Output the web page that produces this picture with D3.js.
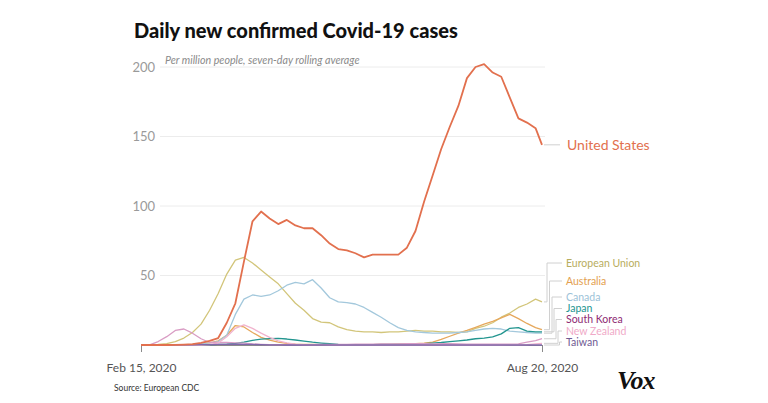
<!DOCTYPE html>
<html>
<head>
<meta charset="utf-8">
<script src="https://cdn.jsdelivr.net/npm/d3@7"></script>
<style>
  html, body { margin: 0; padding: 0; background: #fff; }
  svg { display: block; }
</style>
</head>
<body>
<svg id="chart" width="768" height="403"></svg>
<script>
// ---------- DATA ----------
const dates = ["2020-02-15","2020-02-19","2020-02-23","2020-02-27","2020-03-02","2020-03-06","2020-03-10","2020-03-14",
  "2020-03-18","2020-03-22","2020-03-26","2020-03-30","2020-04-03","2020-04-07","2020-04-11","2020-04-15",
  "2020-04-19","2020-04-23","2020-04-27","2020-05-01","2020-05-05","2020-05-09","2020-05-13","2020-05-17",
  "2020-05-21","2020-05-25","2020-05-29","2020-06-02","2020-06-06","2020-06-10","2020-06-14","2020-06-18",
  "2020-06-22","2020-06-26","2020-06-30","2020-07-04","2020-07-08","2020-07-12","2020-07-16","2020-07-20",
  "2020-07-24","2020-07-28","2020-08-01","2020-08-05","2020-08-09","2020-08-13","2020-08-17","2020-08-20"];

const unitedStates = [0,0,0,0,0.1,0.3,0.6,1.5, 3,5,16,30,60,89,96,91, 87,90,86,84,84,79,73,69,
  68,66,63,65,65,65,65,70, 82,103,122,141,157,172,192,200, 202,196,193,178,163,160,156,144];
const europeanUnion = [0.2,0.3,0.5,1,2.5,5,9,15, 25,37,51,61,63,59,54,49, 44,37,30,25,19,16.5,16,13,
  11,10,9.5,9.5,9,9.5,9.5,10, 10.5,10,10,9.5,9.5,9,9.5,12, 13.5,16,20,23,27,29.5,33,31];
const australia = [0,0,0,0,0,0.1,0.3,0.8, 1.5,3,7,14,13,9,5.5,3.5, 2,1.2,0.7,0.5,0.4,0.3,0.3,0.3,
  0.3,0.3,0.3,0.3,0.4,0.5,0.6,0.8, 1,1.3,2,4,6.3,8.5,10.5,12.7, 15,17,19.5,22,19,15.5,12.5,11];
const canada = [0,0,0,0,0.1,0.2,0.5,1, 1.5,2.5,7,22,33,36,35,36, 39,43,45,44,47,41,34,31,
  30.5,29.5,27,23.5,20,16,12.5,10.5, 9.5,9,8.5,8.5,8.5,9,9.5,10.5, 11.5,12,11.5,10,9.5,9,8.5,8.5];
const japan = [0,0,0,0,0.1,0.2,0.3,0.3, 0.3,0.4,0.7,1.2,2,3.3,4.2,4.6, 4.7,4.3,3.6,2.8,2,1.4,0.9,0.5,
  0.3,0.3,0.3,0.3,0.4,0.4,0.4,0.5, 0.6,0.9,1.4,1.8,2.4,3,3.6,4.5, 5,5.8,8,12,12.5,10,9.5,9.5];
const southKorea = [0,0.1,2.5,6,10.5,11.5,8.5,4.5, 1.8,1.8,1.8,1.6,1.3,0.8,0.5,0.3, 0.2,0.2,0.2,0.1,0.3,0.5,0.5,0.4,
  0.5,0.6,0.7,0.7,0.8,0.8,0.8,0.9, 0.9,0.9,0.8,0.9,0.9,0.8,0.7,0.6, 0.7,0.6,0.6,0.7,0.8,2,3.2,4.5];
const newZealand = [0,0,0,0,0,0,0,0, 0.2,1.5,6,12,14.5,12,8.5,5.5, 3,1.5,0.7,0.3,0.1,0.1,0,0,
  0,0,0,0,0,0,0,0, 0,0,0,0,0,0,0,0, 0,0,0,0.1,0.1,0.2,0.8,1.2];
const taiwan = [0,0,0,0,0.1,0.1,0.1,0.2, 0.3,0.4,0.5,0.6,0.5,0.4,0.2,0.1, 0.1,0,0,0,0,0,0,0,
  0,0,0,0,0,0,0,0, 0,0,0,0,0,0,0,0, 0,0,0,0,0,0,0,0];

const seriesNames = ["European Union","Australia","Canada","Japan","South Korea","New Zealand","Taiwan","United States"];
const yTicks = [50,100,150,200];
const xTickLabels = ["Feb 15, 2020","Aug 20, 2020"];

// ---------- SETUP ----------
const parse = d3.timeParse("%Y-%m-%d");
const xDates = dates.map(parse);
const valuesByName = {
  "European Union": europeanUnion, "Australia": australia, "Canada": canada, "Japan": japan,
  "South Korea": southKorea, "New Zealand": newZealand, "Taiwan": taiwan, "United States": unitedStates
};
const style = {
  "European Union": { line: "#d2c57a", label: "#b8ad5e", labelY: 263, elbow: 547 },
  "Australia":      { line: "#e6a85c", label: "#e3a04f", labelY: 281, elbow: 549.5 },
  "Canada":         { line: "#a3c8dc", label: "#9cc2d8", labelY: 297, elbow: 552 },
  "Japan":          { line: "#22958f", label: "#22958f", labelY: 308.5, elbow: 554 },
  "South Korea":    { line: "#d99cc4", label: "#8e2a72", labelY: 319.5, elbow: 556 },
  "New Zealand":    { line: "#f1b3cd", label: "#f0aac8", labelY: 331, elbow: 558 },
  "Taiwan":         { line: "#8068ab", label: "#6f5a93", labelY: 342, elbow: 559.5 },
  "United States":  { line: "#e2704e", label: "#e2704e", labelY: 145, elbow: 0 }
};

const svg = d3.select("#chart");
const x = d3.scaleTime().domain([parse("2020-02-15"), parse("2020-08-20")]).range([141, 542]);
const y = d3.scaleLinear().domain([0, 200]).range([345, 67]);

// Title
svg.append("text").attr("x", 134).attr("y", 38)
  .attr("font-family", "Lato, 'Open Sans', sans-serif").attr("font-weight", 900)
  .attr("font-size", 20).attr("fill", "#111").text("Daily new confirmed Covid-19 cases");

// Gridlines & y labels
const grid = svg.append("g");
grid.selectAll("line").data(yTicks).join("line")
  .attr("x1", 160).attr("x2", 545).attr("y1", d => y(d)).attr("y2", d => y(d))
  .attr("stroke", "#ececec").attr("stroke-width", 1);
grid.selectAll("text").data(yTicks).join("text")
  .attr("x", 155).attr("y", d => y(d)).attr("dy", "0.35em").attr("text-anchor", "end")
  .attr("font-family", "Lato, sans-serif").attr("font-size", 13).attr("fill", "#9a9a9a")
  .text(d => d);

// Subtitle
svg.append("text").attr("x", 165).attr("y", 64)
  .attr("font-family", "Lato, sans-serif").attr("font-style", "italic").attr("font-size", 10.7)
  .attr("fill", "#8a8a8a").text("Per million people, seven-day rolling average");

// X axis
const xAxis = d3.axisBottom(x)
  .tickValues([parse("2020-02-15"), parse("2020-08-20")])
  .tickFormat((d, i) => xTickLabels[i])
  .tickSize(7).tickSizeOuter(0).tickPadding(11);
const gx = svg.append("g").attr("transform", "translate(0,345)").call(xAxis);
gx.select(".domain").attr("stroke", "#8a8a8a");
gx.selectAll(".tick line").attr("stroke", "#8a8a8a");
gx.selectAll(".tick text").attr("font-family", "Lato, sans-serif").attr("font-size", 12).attr("fill", "#555");

// Lines
const line = d3.line().x((d, i) => x(xDates[i])).y(d => y(d)).curve(d3.curveLinear);
const lineG = svg.append("g");
seriesNames.forEach(name => {
  lineG.append("path").datum(valuesByName[name])
    .attr("d", line).attr("fill", "none")
    .attr("stroke", style[name].line)
    .attr("stroke-width", name === "United States" ? 1.8 : 1.3)
    .attr("stroke-linejoin", "round");
});

// Leaders & labels
const lab = svg.append("g");
seriesNames.forEach(name => {
  const vals = valuesByName[name];
  const endY = y(vals[vals.length - 1]);
  const s = style[name];
  if (name === "United States") {
    lab.append("line").attr("x1", 544).attr("x2", 560).attr("y1", endY).attr("y2", endY)
      .attr("stroke", "#d0d0d0").attr("stroke-width", 1);
    lab.append("text").attr("x", 567).attr("y", s.labelY).attr("dy", "0.35em")
      .attr("font-family", "Lato, sans-serif").attr("font-size", 14).attr("fill", s.label).text(name);
  } else {
    lab.append("path")
      .attr("d", `M544,${endY}H${s.elbow}V${s.labelY}H562`)
      .attr("fill", "none").attr("stroke", "#d0d0d0").attr("stroke-width", 1);
    lab.append("text").attr("x", 566).attr("y", s.labelY).attr("dy", "0.35em")
      .attr("font-family", "Lato, sans-serif").attr("font-size", 10.5).attr("fill", s.label).text(name);
  }
});

// Source
svg.append("text").attr("x", 114).attr("y", 391)
  .attr("font-family", "Lato, sans-serif").attr("font-size", 8.5).attr("fill", "#333")
  .text("Source: European CDC");

// Vox logo
svg.append("text").attr("x", 617).attr("y", 389)
  .attr("font-family", "'Liberation Serif', 'DejaVu Serif', serif").attr("font-weight", 700)
  .attr("font-style", "italic").attr("font-size", 26).attr("letter-spacing", -1)
  .attr("fill", "#111").text("Vox");
</script>
</body>
</html>
